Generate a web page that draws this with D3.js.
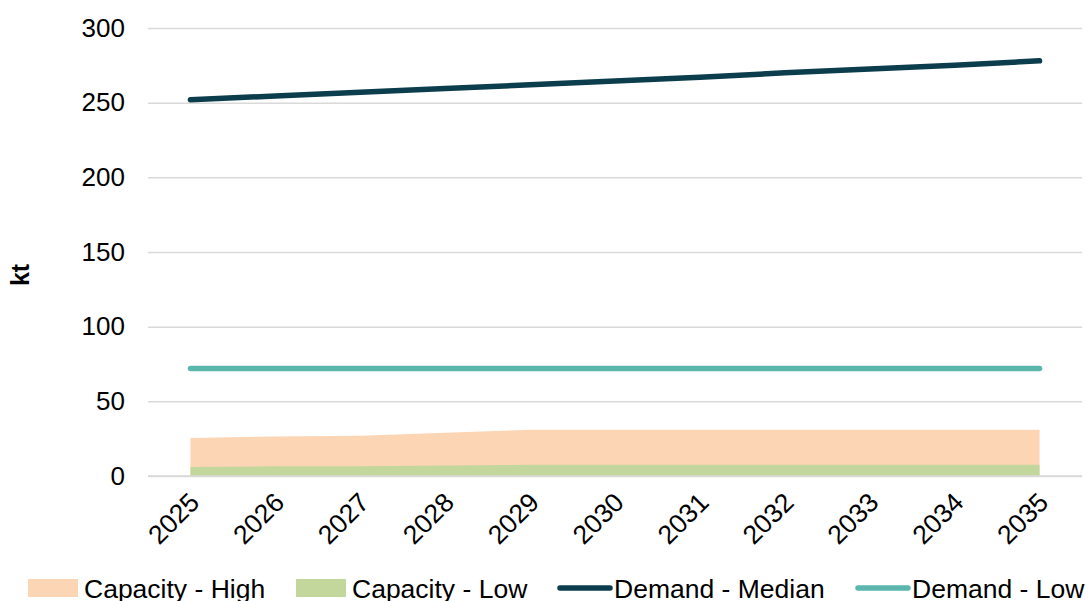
<!DOCTYPE html>
<html>
<head>
<meta charset="utf-8">
<script src="https://cdn.jsdelivr.net/npm/d3@7"></script>
<style>
  html, body { margin: 0; padding: 0; background: #fff; }
  svg { display: block; font-family: Arial, "Liberation Sans", sans-serif; }
</style>
</head>
<body>
<svg id="chart" width="1088" height="601"></svg>
<script>
// Years on the category axis
const years = ["2025","2026","2027","2028","2029","2030","2031","2032","2033","2034","2035"];
// Capacity scenarios (kt)
const capacityHigh = [25.5, 26.5, 27, 29, 31, 31, 31, 31, 31, 31, 31];
const capacityLow  = [6, 6.5, 6.5, 7, 7.5, 7.5, 7.5, 7.5, 7.5, 7.5, 7.5];
// Demand scenarios (kt)
const demandMedian = [252, 254.5, 257, 259.5, 262, 264.5, 267, 270, 272.5, 275, 278];
const demandLow    = [72, 72, 72, 72, 72, 72, 72, 72, 72, 72, 72];
// Value axis ticks
const yTicks = [0, 50, 100, 150, 200, 250, 300];

const svg = d3.select("#chart");
const plot = { left: 148, right: 1082, top: 28, bottom: 476 };
const font = "Arial, 'Liberation Sans', sans-serif";

const x = d3.scalePoint().domain(years).range([plot.left, plot.right]).padding(0.5);
const y = d3.scaleLinear().domain([0, 300]).range([plot.bottom, plot.top]);

// Horizontal gridlines
const yAxis = d3.axisLeft(y).tickValues(yTicks).tickSize(-(plot.right - plot.left)).tickPadding(23);
const gy = svg.append("g").attr("transform", `translate(${plot.left},0)`).call(yAxis);
gy.select(".domain").remove();
gy.selectAll(".tick line").attr("stroke", "#d9d9d9").attr("stroke-width", 1.5);
gy.selectAll(".tick text").attr("font-size", 26).attr("fill", "#000").attr("font-family", font);

// Capacity areas
const area = vals => d3.area()
  .x((d, i) => x(years[i]))
  .y0(y(0))
  .y1(d => y(d))(vals);

svg.append("path").attr("d", area(capacityHigh)).attr("fill", "#fcd5b5");
svg.append("path").attr("d", area(capacityLow)).attr("fill", "#c3d69b");

// Baseline over the areas
svg.append("line")
  .attr("x1", plot.left).attr("x2", plot.right)
  .attr("y1", y(0)).attr("y2", y(0))
  .attr("stroke", "#d9d9d9").attr("stroke-width", 1.5);

// Demand lines
const line = d3.line().x((d, i) => x(years[i])).y(d => y(d));
svg.append("path").attr("d", line(demandLow))
  .attr("fill", "none").attr("stroke", "#5bb6ae").attr("stroke-width", 5.5).attr("stroke-linecap", "round");
svg.append("path").attr("d", line(demandMedian))
  .attr("fill", "none").attr("stroke", "#0b3d4c").attr("stroke-width", 5.5).attr("stroke-linecap", "round");

// Category labels, rotated
const xAxis = d3.axisBottom(x).tickSize(0).tickPadding(0);
const gx = svg.append("g").attr("transform", `translate(0,${plot.bottom})`).call(xAxis);
gx.select(".domain").remove();
gx.selectAll(".tick text")
  .attr("font-size", 26.5).attr("fill", "#000").attr("font-family", font)
  .attr("text-anchor", "end")
  .attr("dy", null).attr("y", 0)
  .attr("transform", "translate(10,28) rotate(-45)");

// Value axis title
svg.append("text")
  .attr("transform", "translate(29,275) rotate(-90)")
  .attr("text-anchor", "middle")
  .attr("font-size", 25).attr("font-weight", "bold").text("kt");

// Legend
const legend = [
  { label: "Capacity - High", color: "#fcd5b5", type: "rect", x0: 28 },
  { label: "Capacity - Low", color: "#c3d69b", type: "rect", x0: 296 },
  { label: "Demand - Median", color: "#0b3d4c", type: "line", x0: 558 },
  { label: "Demand - Low", color: "#5bb6ae", type: "line", x0: 856 }
];
const ly = 588;
const lg = svg.append("g").selectAll("g").data(legend).join("g");
lg.filter(d => d.type === "rect").append("rect")
  .attr("x", d => d.x0).attr("y", ly - 9).attr("width", 50).attr("height", 18)
  .attr("fill", d => d.color);
lg.filter(d => d.type === "line").append("line")
  .attr("x1", d => d.x0 + 2).attr("x2", d => d.x0 + 52)
  .attr("y1", ly).attr("y2", ly)
  .attr("stroke", d => d.color).attr("stroke-width", 5.5).attr("stroke-linecap", "round");
lg.append("text")
  .attr("x", d => d.x0 + 56).attr("y", ly + 10)
  .attr("font-size", 26.5).attr("fill", "#000").attr("font-family", font).text(d => d.label);
</script>
</body>
</html>
